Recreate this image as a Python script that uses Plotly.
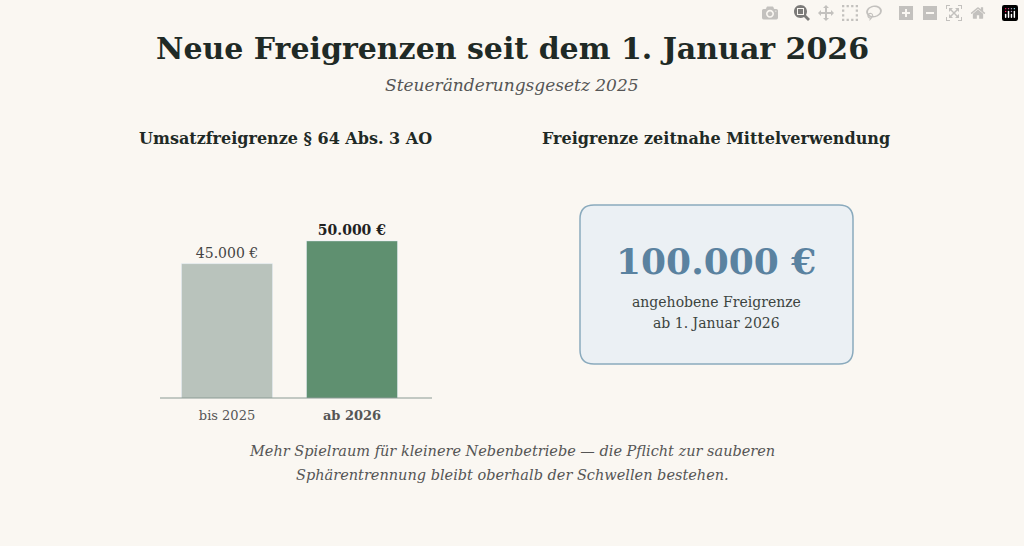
import plotly.graph_objects as go

W, H = 1024, 546
periods = ["bis 2025", "ab 2026"]
limits = [45000, 50000]
bar_labels = ["45.000 €", "<b>50.000 €</b>"]
tick_labels = ["bis 2025", "<b>ab 2026</b>"]
colors = ["#b9c3bc", "#5f9070"]

fig = go.Figure(go.Bar(
    x=[0, 1], y=limits, width=0.728, marker_color=colors,
    text=bar_labels, textposition="outside", cliponaxis=False,
    textfont=dict(family="DejaVu Serif", size=14, color=["#444", "#222"]),
    hoverinfo="skip",
))

fig.update_xaxes(domain=[160 / W, 432 / W], range=[-0.536, 1.64],
                 tickvals=[0, 1], ticktext=tick_labels, showgrid=False,
                 zeroline=False, ticks="", showline=False, ticklabelstandoff=8,
                 tickfont=dict(family="DejaVu Serif", size=13, color="#555"))
fig.update_yaxes(domain=[1 - 398 / H, 1 - 180 / H], range=[15435, 63400],
                 visible=False)


def px(x):
    return x / W


def py(y):
    return 1 - y / H


# rounded card
x0, x1, y0, y1, r = 580, 853, 205, 364, 14
path = (f"M {px(x0+r)},{py(y0)} L {px(x1-r)},{py(y0)} "
        f"Q {px(x1)},{py(y0)} {px(x1)},{py(y0+r)} L {px(x1)},{py(y1-r)} "
        f"Q {px(x1)},{py(y1)} {px(x1-r)},{py(y1)} L {px(x0+r)},{py(y1)} "
        f"Q {px(x0)},{py(y1)} {px(x0)},{py(y1-r)} L {px(x0)},{py(y0+r)} "
        f"Q {px(x0)},{py(y0)} {px(x0+r)},{py(y0)} Z")
fig.add_shape(type="path", path=path, xref="paper", yref="paper",
              fillcolor="#ebf0f4", line=dict(color="#8aaabd", width=1.5))
# baseline
fig.add_shape(type="line", xref="paper", yref="paper",
              x0=px(160), x1=px(432), y0=py(398), y1=py(398),
              line=dict(color="#8a9a94", width=1))

texts = [
    (512, 48, "<b>Neue Freigrenzen seit dem 1. Januar 2026</b>", 30, "#1f2a26", False),
    (512, 85, "Steueränderungsgesetz 2025", 17, "#555", True),
    (285, 138, "<b>Umsatzfreigrenze § 64 Abs. 3 AO</b>", 16, "#1f2a26", False),
    (716, 138, "<b>Freigrenze zeitnahe Mittelverwendung</b>", 16, "#1f2a26", False),
    (716, 261, "<b>100.000 €</b>", 36, "#5a82a0", False),
    (716, 302, "angehobene Freigrenze", 14, "#3c4440", False),
    (716, 323, "ab 1. Januar 2026", 14, "#3c4440", False),
    (512, 451, "Mehr Spielraum für kleinere Nebenbetriebe — die Pflicht zur sauberen", 14.5, "#555", True),
    (512, 475, "Sphärentrennung bleibt oberhalb der Schwellen bestehen.", 14.5, "#555", True),
]
for x, y, t, s, c, it in texts:
    if it:
        t = f"<i>{t}</i>"
    fig.add_annotation(x=px(x), y=py(y), xref="paper", yref="paper", text=t,
                       showarrow=False, xanchor="center", yanchor="middle",
                       font=dict(family="DejaVu Serif", size=s, color=c))

fig.update_layout(width=W, height=H, margin=dict(l=0, r=0, t=0, b=0),
                  paper_bgcolor="#faf7f2", plot_bgcolor="#faf7f2",
                  showlegend=False, font=dict(family="DejaVu Serif"))
fig.write_html("out.html")

# drop the default page margin so the figure fills the window
with open("out.html", encoding="utf-8") as f:
    html = f.read()
html = html.replace("<head>", "<head><style>body{margin:0;overflow:hidden}</style>", 1)
with open("out.html", "w", encoding="utf-8") as f:
    f.write(html)
